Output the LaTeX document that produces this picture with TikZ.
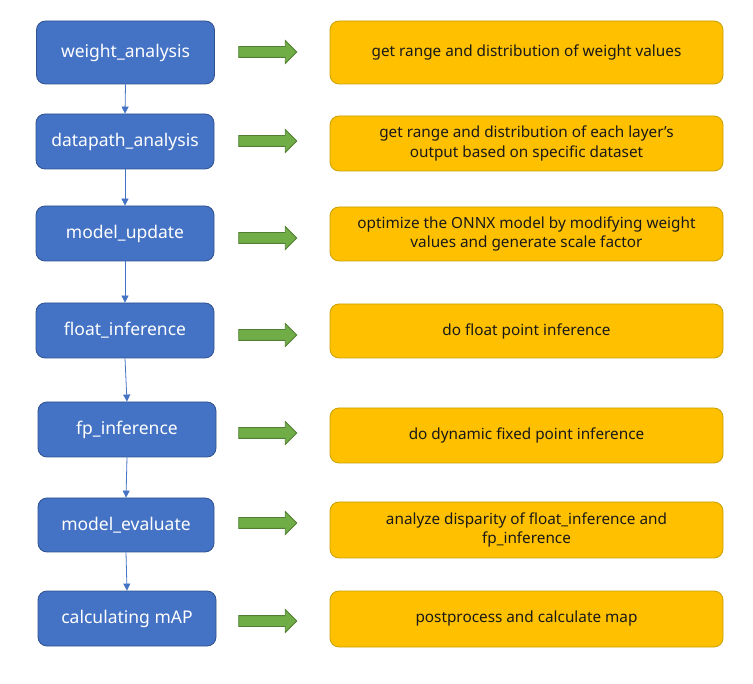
\documentclass[tikz,border=0pt]{standalone}
\usepackage{fontspec}
\setmainfont{Noto Sans}
\usetikzlibrary{positioning, shapes.arrows, arrows.meta}

\definecolor{stepblue}{HTML}{4472C4}
\definecolor{stepblueline}{HTML}{2F528F}
\definecolor{noteorange}{HTML}{FFC000}
\definecolor{noteline}{HTML}{C9A000}
\definecolor{arrowgreen}{HTML}{70AD47}
\definecolor{arrowgreenline}{HTML}{507E32}

\tikzset{
    stepbox/.style={draw=stepblueline, fill=stepblue, rounded corners=9pt, line width=0.8pt,
        text=white, font=\fontsize{17.5}{20}\selectfont, minimum width=178pt, minimum height=55pt, inner sep=0pt},
    notebox/.style={draw=noteline, fill=noteorange, rounded corners=9pt, line width=0.8pt,
        text=black!90, font=\fontsize{15.3}{19.5}\selectfont, align=center, minimum width=393pt, minimum height=55pt, inner sep=0pt},
    fatarrow/.style={single arrow, draw=arrowgreenline, fill=arrowgreen, line width=0.8pt,
        minimum height=58pt, minimum width=22pt, inner sep=5pt, single arrow head extend=6pt, anchor=center},
    flowline/.style={draw=stepblue, line width=0.8pt, -{Triangle[width=7pt, length=7pt]}}
}

\begin{document}
\begin{tikzpicture}[x=1pt, y=-1pt]
    \useasboundingbox (0, 0) rectangle (753, 684);

    % 左侧步骤
    \node[stepbox, minimum height=63pt] (wa) at (125.5, 52.5) {weight\_analysis};
    \node[stepbox] (da) at (125, 141.5) {datapath\_analysis};
    \node[stepbox] (mu) at (125, 233.5) {model\_update};
    \node[stepbox] (fi) at (125, 330.5) {float\_inference};
    \node[stepbox] (fpi) at (127, 429.5) {fp\_inference};
    \node[stepbox, minimum width=176pt, minimum height=54pt] (me) at (126, 525) {model\_evaluate};
    \node[stepbox] (cm) at (127, 618.5) {calculating mAP};

    % 步骤之间的连线
    \draw[flowline] (wa.south) -- (da.north);
    \draw[flowline] (da.south) -- (mu.north);
    \draw[flowline] (mu.south) -- (fi.north);
    \draw[flowline] (fi.south) -- (fpi.north);
    \draw[flowline] (fpi.south) -- (me.north);
    \draw[flowline] (me.south) -- (cm.north);

    % 右侧说明
    \node[notebox, minimum height=63pt] (wanote) at (526.5, 52.5) {get range and distribution of weight values};
    \node[notebox] (danote) at (526.5, 143.5) {get range and distribution of each layer’s\\output based on specific dataset};
    \node[notebox, minimum height=54pt] (munote) at (526.5, 234) {optimize the ONNX model by modifying weight\\values and generate scale factor};
    \node[notebox, minimum height=54pt] (finote) at (526.5, 331) {do float point inference};
    \node[notebox] (fpinote) at (526.5, 435.5) {do dynamic fixed point inference};
    \node[notebox, minimum height=56pt] (menote) at (526.5, 530) {analyze disparity of float\_inference and\\fp\_inference};
    \node[notebox, minimum height=56pt] (cmnote) at (526.5, 619) {postprocess and calculate map};

    % 绿色箭头
    \node[fatarrow] (wagoes) at (265, 52) {};
    \node[fatarrow] (dagoes) at (265, 141) {};
    \node[fatarrow] (mugoes) at (265, 238) {};
    \node[fatarrow] (figoes) at (265, 335) {};
    \node[fatarrow] (fpigoes) at (265, 433) {};
    \node[fatarrow] (megoes) at (265, 523) {};
    \node[fatarrow] (cmgoes) at (265, 621) {};
\end{tikzpicture}
\end{document}
